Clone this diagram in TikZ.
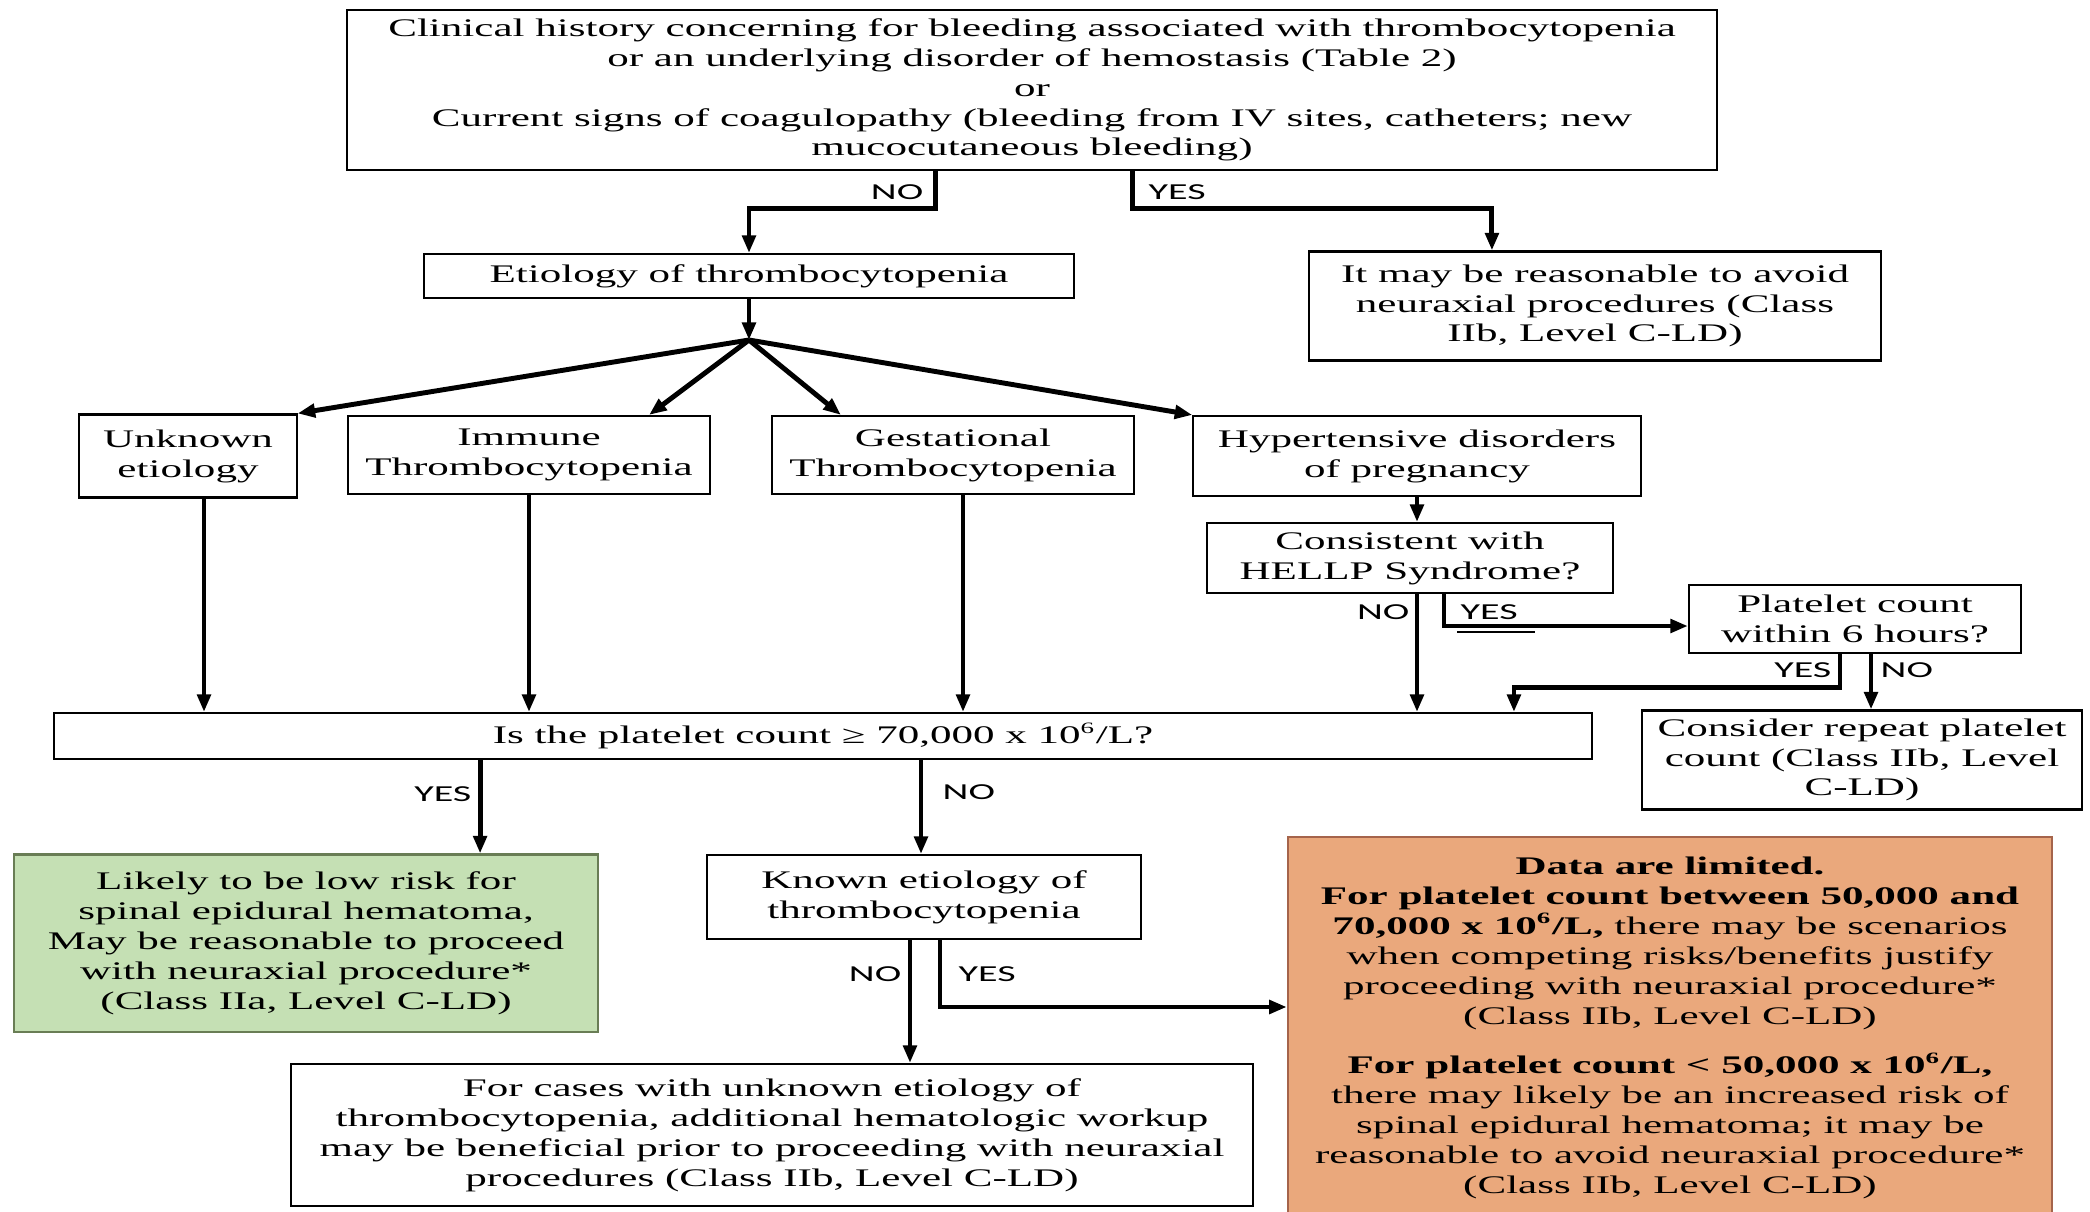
\documentclass[tikz,border=0pt]{standalone}
\usepackage{fontspec}
\setmainfont{Liberation Serif}[FakeStretch=1.7]
\newfontfamily\lblfont{Carlito}[FakeStretch=1.75]
\usetikzlibrary{arrows.meta}
\definecolor{greenfill}{RGB}{197,224,180}
\definecolor{greenline}{RGB}{105,125,85}
\definecolor{orangefill}{RGB}{234,168,124}
\definecolor{orangeline}{RGB}{165,100,75}
\newcommand{\supsix}{\textsuperscript{\fontsize{4.5}{4.5}\selectfont 6}}
\begin{document}
\fontsize{7.2}{8.5}\selectfont
\begin{tikzpicture}[x=0.01cm,y=-0.01cm,
  box/.style={draw, line width=0.6pt, align=center, inner sep=0pt},
  lbl/.style={font=\lblfont\fontsize{6.5}{7}\selectfont, inner sep=0pt},
  link/.style={line width=1.4pt},
  >={Triangle[length=5pt,width=3.8pt]}]
\useasboundingbox (0,0) rectangle (2090,1212);
% boxes
\node[box, minimum width=13.69cm, minimum height=1.6cm] (top) at (1032,90)
{Clinical history concerning for bleeding associated with thrombocytopenia\\
or an underlying disorder of hemostasis (Table 2)\\or\\
Current signs of coagulopathy (bleeding from IV sites, catheters; new\\
mucocutaneous bleeding)};
\node[box, minimum width=6.5cm, minimum height=0.44cm] (etio) at (749,276) {Etiology of thrombocytopenia};
\node[box, minimum width=5.72cm, minimum height=1.09cm] (avoid) at (1595,306)
{It may be reasonable to avoid\\neuraxial procedures (Class\\IIb, Level C-LD)};
\node[box, minimum width=2.17cm, minimum height=0.83cm] (unk) at (188,456) {Unknown\\etiology};
\node[box, minimum width=3.62cm, minimum height=0.78cm] (imm) at (529,455) {Immune\\Thrombocytopenia};
\node[box, minimum width=3.62cm, minimum height=0.78cm] (gest) at (953,455) {Gestational\\Thrombocytopenia};
\node[box, minimum width=4.47cm, minimum height=0.8cm] (hyp) at (1417,456) {Hypertensive disorders\\of pregnancy};
\node[box, minimum width=4.05cm, minimum height=0.7cm] (hellp) at (1410,558) {Consistent with\\HELLP Syndrome?};
\node[box, minimum width=3.32cm, minimum height=0.68cm] (six) at (1855,619) {Platelet count\\within 6 hours?};
\node[box, minimum width=15.37cm, minimum height=0.46cm] (plat) at (823,736)
{Is the platelet count ≥ 70,000 x 10\supsix/L?};
\node[box, minimum width=4.4cm, minimum height=0.99cm] (cons) at (1862,760)
{Consider repeat platelet\\count (Class IIb, Level\\C-LD)};
\node[box, draw=greenline, fill=greenfill, minimum width=5.83cm, minimum height=1.77cm] (low) at (306,943)
{Likely to be low risk for\\spinal epidural hematoma,\\May be reasonable to proceed\\
with neuraxial procedure*\\(Class IIa, Level C-LD)};
\node[box, minimum width=4.33cm, minimum height=0.84cm] (known) at (924,897) {Known etiology of\\thrombocytopenia};
\node[box, minimum width=9.61cm, minimum height=1.42cm] (workup) at (772,1135)
{For cases with unknown etiology of\\thrombocytopenia, additional hematologic workup\\
may be beneficial prior to proceeding with neuraxial\\procedures (Class IIb, Level C-LD)};
\node[box, draw=orangeline, fill=orangefill, minimum width=7.64cm, minimum height=3.82cm] (limited) at (1670,1028)
{\textbf{Data are limited.}\\
\textbf{For platelet count between 50,000 and}\\
\textbf{70,000 x 10\supsix/L,} there may be scenarios\\
when competing risks/benefits justify\\
proceeding with neuraxial procedure*\\
(Class IIb, Level C-LD)\\[0.2cm]
\textbf{For platelet count < 50,000 x 10\supsix/L,}\\
there may likely be an increased risk of\\
spinal epidural hematoma; it may be\\
reasonable to avoid neuraxial procedure*\\
(Class IIb, Level C-LD)};
% first question
\draw[link,->] ([xshift=-0.96cm]top.south) -- ++(0,37) -| (etio.north);
\draw[link,->] ([xshift=1cm]top.south) -- ++(0,37) -| ([xshift=-1.03cm]avoid.north);
\node[lbl, anchor=east] (noA) at (924,192) {NO};
\node[lbl, anchor=west] (yesA) at (1148,192) {YES};
% etiologies
\coordinate (hub) at (749,340);
\draw[link,->] (etio.south) -- (hub);
\draw[link,->] (hub) -- (unk.north east);
\draw[link,->] (hub) -- ([xshift=1.2cm]imm.north);
\draw[link,->] (hub) -- ([xshift=-1.12cm]gest.north);
\draw[link,->] (hub) -- (hyp.north west);
\draw[link,->] ([xshift=0.16cm]unk.south) -- ([xshift=0.16cm]unk.south |- plat.north);
\draw[link,->] (imm.south) -- (imm.south |- plat.north);
\draw[link,->] ([xshift=0.1cm]gest.south) -- ([xshift=0.1cm]gest.south |- plat.north);
\draw[link,->] (hyp.south) -- (hyp.south |- hellp.north);
% HELLP
\draw[link,->] ([xshift=0.07cm]hellp.south) -- ([xshift=0.07cm]hellp.south |- plat.north);
\draw[link,->] ([xshift=0.34cm]hellp.south) |- ([yshift=-0.07cm]six.west);
\draw[line width=0.5pt] (1457,632) -- (1535,632);
\node[lbl, anchor=east] (noB) at (1410,612) {NO};
\node[lbl, anchor=west] (yesB) at (1460,612) {YES};
\draw[link,->] ([xshift=-0.15cm]six.south) |- ([xshift=-0.79cm,yshift=0.24cm]plat.north east)
  -- ([xshift=-0.79cm]plat.north east);
\draw[link,->] ([xshift=0.16cm]six.south) -- ([xshift=0.16cm]six.south |- cons.north);
\node[lbl, anchor=east] (yesC) at (1832,670) {YES};
\node[lbl, anchor=west] (noC) at (1880,670) {NO};
% platelet count
\draw[link,->] ([xshift=1.74cm]low.north |- plat.south) -- ([xshift=1.74cm]low.north);
\draw[link,->] ([xshift=-0.03cm]known.north |- plat.south) -- ([xshift=-0.03cm]known.north);
\node[lbl, anchor=east] (yesD) at (472,794) {YES};
\node[lbl, anchor=west] (noD) at (942,792) {NO};
% known etiology
\draw[link,->] ([xshift=-0.14cm]known.south) -- ([xshift=-0.14cm]known.south |- workup.north);
\draw[link,->] ([xshift=0.16cm]known.south) |- ([yshift=0.21cm]limited.west);
\node[lbl, anchor=east] (noE) at (902,974) {NO};
\node[lbl, anchor=west] (yesE) at (958,974) {YES};
\end{tikzpicture}
\end{document}
